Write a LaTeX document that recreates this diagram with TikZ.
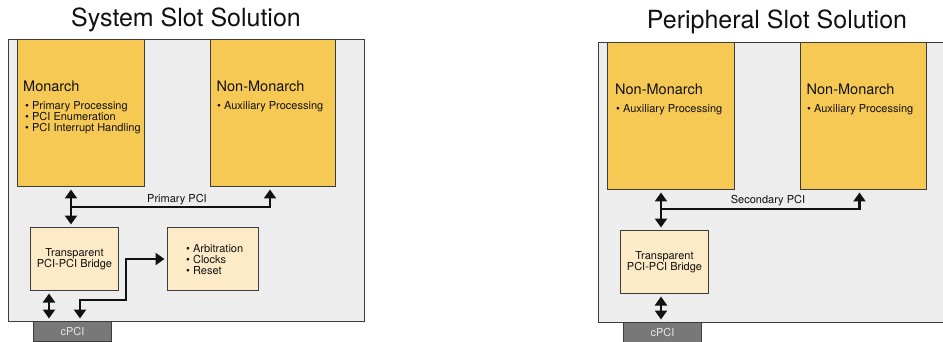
\documentclass[tikz,border=0pt]{standalone}
\usepackage{fontspec}
\setmainfont{TeX Gyre Heros}
\usetikzlibrary{arrows.meta,positioning,calc}
\definecolor{Ink}{HTML}{111111}
\definecolor{Edge}{HTML}{3C3C3C}
\definecolor{Board}{HTML}{EDEDED}
\definecolor{Gold}{HTML}{F6C955}
\definecolor{Cream}{HTML}{FDEBC8}
\definecolor{Plug}{HTML}{787878}
\definecolor{PlugText}{HTML}{E6E6E6}
\newcommand{\titlefont}{\fontsize{25}{30}\selectfont}
\newcommand{\headfont}{\fontsize{14.5}{17}\selectfont}
\newcommand{\itemfont}{\fontsize{11}{11}\selectfont}
\tikzset{
  board/.style={draw=Edge,fill=Board,line width=1.3pt,inner sep=0pt,anchor=north west},
  cpu/.style={draw=Edge,fill=Gold,line width=1pt,inner sep=0pt,anchor=north west},
  bridge/.style={draw=Edge,fill=Cream,line width=1pt,inner sep=0pt,anchor=north west,align=center,font=\itemfont,text=Ink},
  plug/.style={draw=Edge,fill=Plug,line width=1pt,inner sep=0pt,anchor=north west,font=\itemfont,text=PlugText},
  title/.style={anchor=base,font=\titlefont,text=Ink,inner sep=0pt},
  heading/.style={anchor=base west,font=\headfont,text=Ink,inner sep=0pt},
  items/.style={anchor=north west,align=left,font=\itemfont,text=Ink,inner sep=0pt},
  buslabel/.style={anchor=base,font=\itemfont,text=Ink,inner sep=0pt},
  flow/.style={-{Triangle[length=9pt,width=12pt]},draw=Ink,line width=2.5pt,shorten >=2.5pt},
  dflow/.style={{Triangle[length=9pt,width=12pt]}-{Triangle[length=9pt,width=12pt]},draw=Ink,line width=2.5pt,shorten >=2.5pt,shorten <=2.5pt}
}
\begin{document}
\begin{tikzpicture}[x=1pt,y=-1pt]
  \useasboundingbox (0,0) rectangle (943,342);
  \clip (0,0) rectangle (943,342);
  % system slot
  \node[title] (titleA) at (186,27) {System Slot Solution};
  \node[board,minimum width=356pt,minimum height=282pt] (boardA) at (8,39) {};
  \node[cpu,minimum width=127pt,minimum height=147pt] (monarch) at (17,39) {};
  \node[cpu,minimum width=125pt,minimum height=147pt] (nonmonarch) at (210,39) {};
  \node[bridge,minimum width=88pt,minimum height=63pt] (bridgeA) at (30,227) {Transparent\\PCI-PCI Bridge};
  \node[bridge,minimum width=91pt,minimum height=63pt] (arbiter) at (167,227) {};
  \node[plug,minimum width=78pt,minimum height=20pt] (cpciA) at (33,321) {cPCI};
  \node[heading] (monarchT) at (23,92) {Monarch};
  \node[items] (monarchL) at (25,101) {\textbullet\ Primary Processing\\\textbullet\ PCI Enumeration\\\textbullet\ PCI Interrupt Handling};
  \node[heading] (nonmonarchT) at (216.5,92) {Non-Monarch};
  \node[items] (nonmonarchL) at (217,101) {\textbullet\ Auxiliary Processing};
  \node[items] (arbiterL) at (186,244) {\textbullet\ Arbitration\\\textbullet\ Clocks\\\textbullet\ Reset};
  \node[buslabel] (primary) at (177,202) {Primary PCI};
  \coordinate (busA) at (71,207);
  \coordinate (plugA) at (49,0);
  \coordinate (turnA) at (126,300);
  \coordinate (dropA) at (80,0);
  \draw[dflow] (monarch.south -| busA) -- (bridgeA.north -| busA);
  \draw[flow] (busA) -| ([xshift=-3pt]nonmonarch.south);
  \draw[dflow] (bridgeA.south -| plugA) -- (cpciA.north -| plugA);
  \draw[dflow] (arbiter.west) -| (turnA) -| (cpciA.north -| dropA);
  % peripheral slot
  \node[title] (titleB) at (777,29) {Peripheral Slot Solution};
  \node[board,minimum width=362pt,minimum height=280pt] (boardB) at (598,42) {};
  \node[cpu,minimum width=127pt,minimum height=147pt] (periphA) at (607,42) {};
  \node[cpu,minimum width=126pt,minimum height=147pt] (periphB) at (800,42) {};
  \node[bridge,minimum width=88pt,minimum height=63pt] (bridgeB) at (620,230) {Transparent\\PCI-PCI Bridge};
  \node[plug,minimum width=78pt,minimum height=20pt] (cpciB) at (623,322) {cPCI};
  \node[heading] (periphAT) at (615,95) {Non-Monarch};
  \node[items] (periphAL) at (616,104) {\textbullet\ Auxiliary Processing};
  \node[heading] (periphBT) at (806.5,95) {Non-Monarch};
  \node[items] (periphBL) at (807,104) {\textbullet\ Auxiliary Processing};
  \node[buslabel] (secondary) at (768,204) {Secondary PCI};
  \coordinate (busB) at (661,209);
  \draw[dflow] (periphA.south -| busB) -- (bridgeB.north -| busB);
  \draw[flow] (busB) -| ([xshift=-4pt]periphB.south);
  \draw[dflow] (bridgeB.south -| busB) -- (cpciB.north -| busB);
\end{tikzpicture}
\end{document}
